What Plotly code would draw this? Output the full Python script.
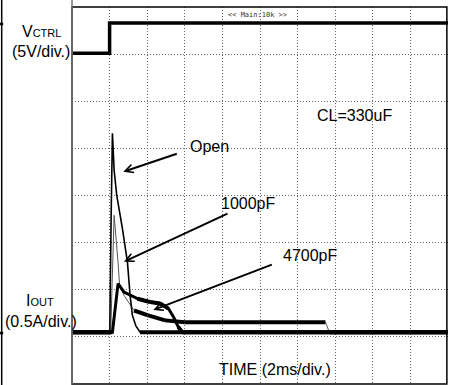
import plotly.graph_objects as go

# ---- data (time in ms, voltage in V, current in A) ----
t_vctrl = [0, 2.0, 2.0, 20]
v_vctrl = [0, 0, 3.2, 3.2]

t_open = [0, 2.01, 2.08, 2.15, 2.24, 2.38, 2.68, 2.95, 3.09, 3.21, 3.39, 3.62, 20]
i_open = [0, 0, 1.20, 2.11, 1.72, 1.45, 1.10, 0.74, 0.39, 0.18, 0.07, 0.0, 0.0]

t_1000 = [0, 2.06, 2.24, 2.38, 2.45, 2.53, 2.77, 3.30, 4.01, 4.95, 6.0, 13.48, 13.69, 20]
i_1000 = [0, 0, 1.24, 0.96, 0.74, 0.50, 0.39, 0.23, 0.18, 0.125, 0.105, 0.105, 0.0, 0.0]

t_4700 = [0, 2.15, 2.45, 2.77, 3.48, 4.15, 4.69, 5.13, 5.40, 5.66, 5.86, 20]
i_4700 = [0, 0, 0.515, 0.425, 0.355, 0.32, 0.305, 0.25, 0.16, 0.053, 0.0, 0.0]

V_PER_DIV = 5.0
A_PER_DIV = 0.5
V_ZERO_DIV = 7.02
I_ZERO_DIV = 1.1

FONT = "Liberation Sans, Arial, sans-serif"


def vdiv(vals):
    return [V_ZERO_DIV + v / V_PER_DIV for v in vals]


def idiv(vals):
    return [I_ZERO_DIV + v / A_PER_DIV for v in vals]


def slow_segments(t, a, y):
    # segments where the signal changes slowly: drawn thick, like the noisy scope trace
    xs, ys = [], []
    for k in range(len(t) - 1):
        if abs(a[k] - a[k + 1]) <= 0.06:
            xs += [t[k], t[k + 1], None]
            ys += [y[k], y[k + 1], None]
    return xs, ys


fig = go.Figure()

# Vctrl
fig.add_trace(go.Scatter(x=t_vctrl, y=vdiv(v_vctrl), mode="lines",
                         line=dict(color="black", width=3.5), hoverinfo="skip"))

series = [
    (t_1000, i_1000, "#555555", 1.0),
    (t_open, i_open, "black", 1.6),
    (t_4700, i_4700, "black", 3.0),
]
for t, i, col, w in series:
    yy = idiv(i)
    fig.add_trace(go.Scatter(x=t, y=yy, mode="lines",
                             line=dict(color=col, width=w), hoverinfo="skip"))
    fx, fy = slow_segments(t, i, yy)
    fig.add_trace(go.Scatter(x=fx, y=fy, mode="lines",
                             line=dict(color="black", width=4), hoverinfo="skip"))

annotations = []


def txt(x, y, s, size=16, xref="x", yref="y", font=FONT, color="black"):
    annotations.append(dict(x=x, y=y, xref=xref, yref=yref, text=s, showarrow=False,
                            xanchor="center", yanchor="middle",
                            font=dict(family=font, size=size, color=color)))


# labels outside plot (paper coords)
txt(-0.081, 0.934, "V<span style='font-size:11px'>CTRL</span>", xref="paper", yref="paper")
txt(-0.082, 0.881, "(5V/div.)", xref="paper", yref="paper")
txt(-0.084, 0.221, "I<span style='font-size:11px'>OUT</span>", xref="paper", yref="paper")
txt(-0.083, 0.165, "(0.5A/div.)", xref="paper", yref="paper")

# labels inside plot (data coords: ms, div)
txt(15.05, 5.69, "CL=330uF")
txt(7.29, 5.05, "Open")
txt(9.36, 3.82, "1000pF")
txt(12.66, 2.72, "4700pF")
txt(10.8, 0.30, "TIME (2ms/div.)")
txt(9.87, 7.83, "&lt;&lt; Main:10k &gt;&gt;", size=7, font="DejaVu Sans Mono", color="#333333")

# arrows
arrows = [
    (5.654, 4.895, 2.729, 4.505),
    (8.35, 3.63, 2.766, 2.595),
    (10.71, 2.546, 4.324, 1.570),
]
for ax, ay, x, y in arrows:
    annotations.append(dict(x=x, y=y, ax=ax, ay=ay, xref="x", yref="y", axref="x", ayref="y",
                            text="", showarrow=True, arrowhead=5, arrowsize=0.8,
                            arrowwidth=2, arrowcolor="black", standoff=0))

shapes = [
    # plot frame
    dict(type="rect", xref="paper", yref="paper", x0=0, y0=0, x1=0.997, y1=1,
         line=dict(color="black", width=1.5)),
    dict(type="line", xref="paper", yref="paper", x0=0, y0=0, x1=0, y1=1.02,
         line=dict(color="#777777", width=1.5)),
    # outer left edge line and markers
    dict(type="line", xref="paper", yref="paper", x0=-0.187, y0=-0.01, x1=-0.187, y1=1.02,
         line=dict(color="black", width=1.5)),
    dict(type="line", xref="paper", yref="paper", x0=-0.1915, y0=0.955, x1=-0.183, y1=0.955,
         line=dict(color="black", width=2.5)),
    dict(type="line", xref="paper", yref="paper", x0=-0.1915, y0=0.135, x1=-0.183, y1=0.135,
         line=dict(color="black", width=2.5)),
]

grid = dict(showgrid=True, gridcolor="#666666", gridwidth=1, griddash="1px,2px",
            zeroline=False, showticklabels=False, ticks="", showline=False, fixedrange=True)

fig.update_layout(
    width=454, height=385,
    margin=dict(l=72, r=6, t=7, b=1),
    paper_bgcolor="white", plot_bgcolor="white",
    showlegend=False,
    xaxis=dict(range=[0, 20], dtick=2, tick0=0, **grid),
    yaxis=dict(range=[0, 8], dtick=1, tick0=0, **grid),
    annotations=annotations,
    shapes=shapes,
)

fig.write_html("out.html", config={"displayModeBar": False},
               post_script="document.body.style.margin='0';document.body.style.padding='0';")
